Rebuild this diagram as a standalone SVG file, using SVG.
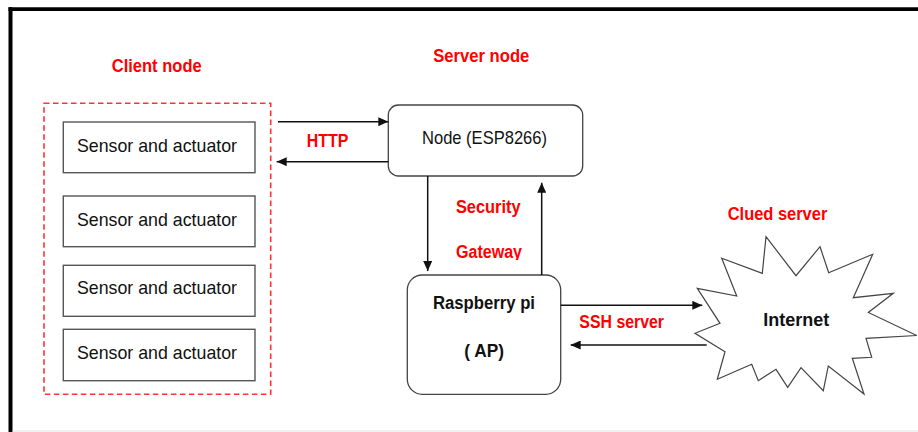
<svg xmlns="http://www.w3.org/2000/svg" width="918" height="432" viewBox="0 0 918 432">
<style>
.box{fill:#fff;stroke:#555;stroke-width:1.4}
.rbox{fill:#fff;stroke:#444;stroke-width:1.3}
.t{font-family:"Liberation Sans",Arial,sans-serif;font-size:18.5px;fill:#111;text-anchor:middle}
.b{font-family:"Liberation Sans",Arial,sans-serif;font-size:18px;font-weight:bold;text-anchor:middle}
.red{fill:#ff0000}
.blk{fill:#111}
.conn{stroke:#111;stroke-width:1.5;fill:none;marker-end:url(#ah)}
</style>
<defs>
<marker id="ah" markerUnits="userSpaceOnUse" markerWidth="10" markerHeight="9" refX="10" refY="4.5" orient="auto" viewBox="0 0 10 9">
<path d="M0,0 L10,4.5 L0,9 z" fill="#111"/>
</marker>
<clipPath id="gclip"><rect x="440" y="230" width="100" height="30"/></clipPath>
</defs>
<rect width="918" height="432" fill="#fff"/>
<g id="frame">
<line x1="8.5" y1="9.2" x2="918" y2="9.2" stroke="#000" stroke-width="3.8"/>
<line x1="10.5" y1="7.3" x2="10.5" y2="432" stroke="#000" stroke-width="4"/>
<line x1="12.5" y1="431" x2="918" y2="431" stroke="#e2e2e2" stroke-width="1"/>
</g>
<g id="client-node">
<rect x="44" y="103.3" width="226.7" height="291" fill="none" stroke="#ff3333" stroke-width="1.6" stroke-dasharray="5.5,3.5"/>
<text class="b red" x="156.7" y="71.7" textLength="90" lengthAdjust="spacingAndGlyphs">Client node</text>
</g>
<g id="sensor1">
<rect class="box" x="63.3" y="122" width="191.7" height="50.7"/>
<text class="t" x="157" y="152.3" textLength="160" lengthAdjust="spacingAndGlyphs">Sensor and actuator</text>
</g>
<g id="sensor2">
<rect class="box" x="63.3" y="196" width="191.7" height="50.7"/>
<text class="t" x="157" y="226" textLength="160" lengthAdjust="spacingAndGlyphs">Sensor and actuator</text>
</g>
<g id="sensor3">
<rect class="box" x="63.3" y="265.3" width="191.7" height="51"/>
<text class="t" x="157" y="294.3" textLength="160" lengthAdjust="spacingAndGlyphs">Sensor and actuator</text>
</g>
<g id="sensor4">
<rect class="box" x="63.3" y="329.3" width="191.7" height="51.4"/>
<text class="t" x="157" y="359" textLength="160" lengthAdjust="spacingAndGlyphs">Sensor and actuator</text>
</g>
<g id="server-node">
<text class="b red" x="481.3" y="61.7" textLength="96" lengthAdjust="spacingAndGlyphs">Server node</text>
<rect class="rbox" x="388.3" y="105" width="194.4" height="71" rx="10"/>
<text class="t" x="484.5" y="143.5" textLength="125" lengthAdjust="spacingAndGlyphs">Node (ESP8266)</text>
</g>
<g id="raspberry-pi">
<rect class="rbox" x="407.3" y="275" width="153.4" height="119.3" rx="15"/>
<text class="b blk" x="484" y="309" textLength="102" lengthAdjust="spacingAndGlyphs">Raspberry pi</text>
<text class="b blk" x="484.2" y="356.7" textLength="39.7" lengthAdjust="spacingAndGlyphs">( AP)</text>
</g>
<g id="internet">
<text class="b red" x="777.5" y="220" textLength="99.6" lengthAdjust="spacingAndGlyphs">Clued server</text>
<polygon fill="#fff" stroke="#444" stroke-width="1.2" stroke-linejoin="miter" points="766,236.7 796,275.7 820,246.7 828.7,272.7 872.7,254.3 853.3,297.7 893.3,293.3 868.3,312.5 916.7,335.5 866,338.3 871.7,357.3 852.3,358.3 864,394 828.3,366 823.3,390.7 801,367.7 787.7,387.3 776,369.3 758.3,380.7 751.7,364.3 717.3,379.3 725,351.7 695,333.3 720,323.3 697.3,288.3 736.7,296 721.7,258.3 762.3,273.3"/>
<text class="b blk" x="796.3" y="326" textLength="66" lengthAdjust="spacingAndGlyphs">Internet</text>
</g>
<g id="connectors">
<line class="conn" x1="278" y1="121.7" x2="388.3" y2="121.7"/>
<line class="conn" x1="388.3" y1="161.7" x2="276.7" y2="161.7"/>
<line class="conn" x1="427.7" y1="176" x2="427.7" y2="271"/>
<line class="conn" x1="541.7" y1="275" x2="541.7" y2="182.7"/>
<line class="conn" x1="560.7" y1="305.3" x2="702.3" y2="305.3"/>
<line class="conn" x1="706.7" y1="345" x2="570.7" y2="345"/>
</g>
<g id="connector-labels">
<text class="b red" x="327.5" y="146.7" textLength="41.6" lengthAdjust="spacingAndGlyphs">HTTP</text>
<text class="b red" x="488.3" y="213" textLength="64.7" lengthAdjust="spacingAndGlyphs">Security</text>
<text class="b red" x="489" y="257.7" textLength="66" lengthAdjust="spacingAndGlyphs" clip-path="url(#gclip)">Gateway</text>
<text class="b red" x="621.7" y="328.3" textLength="84.7" lengthAdjust="spacingAndGlyphs">SSH server</text>
</g>
</svg>
